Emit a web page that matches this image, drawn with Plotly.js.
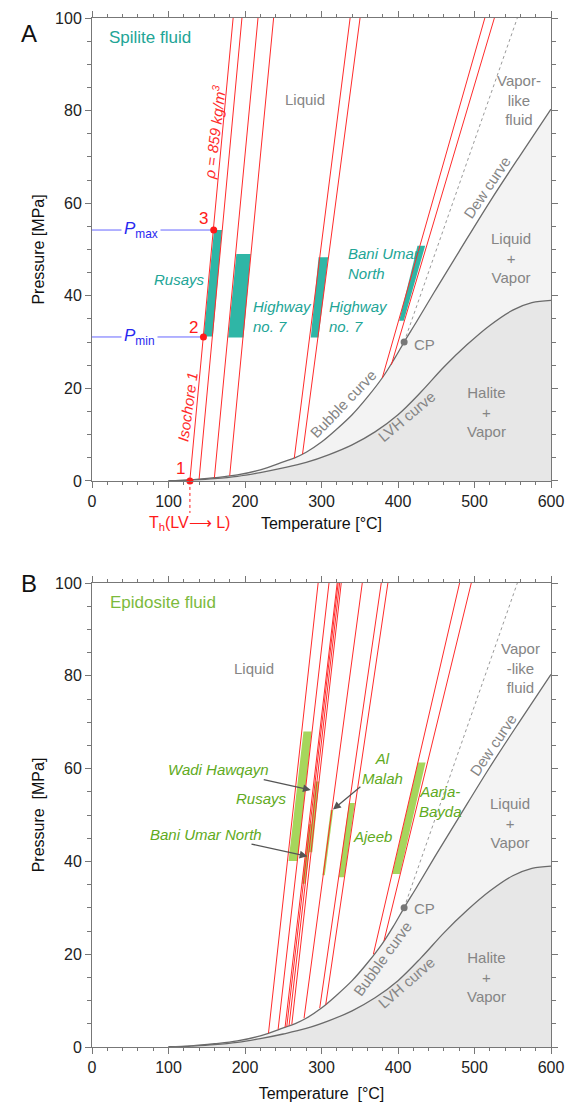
<!DOCTYPE html>
<html>
<head>
<meta charset="utf-8">
<script src="https://cdn.plot.ly/plotly-3.0.1.min.js"></script>
<style>html,body{margin:0;padding:0;background:#fff;}#chart{width:566px;height:1102px;}</style>
</head>
<body>
<div id="chart"></div>
<script>
// ---------- data ----------
// Bubble curve (to CP) continued as dew curve
const curveT = [100, 130, 160, 190, 220, 250, 265, 280, 300, 320, 340, 360, 380, 395, 408, 425, 450, 480, 520, 560, 600];
const curveP = [0.05, 0.25, 0.7, 1.3, 2.4, 4.1, 5.0, 6.2, 8.4, 11.2, 14.3, 18.1, 22.4, 26.3, 30.0, 34.6, 41.5, 49.6, 60.3, 70.4, 80.3];
// LVH curve
const lvhT = [100, 130, 160, 190, 220, 250, 280, 310, 340, 370, 400, 430, 460, 490, 520, 550, 575, 600];
const lvhP = [0.0, 0.2, 0.5, 1.0, 1.8, 2.8, 4.0, 5.7, 7.8, 10.6, 14.3, 19.2, 24.6, 29.4, 33.6, 36.9, 38.5, 39.0];
// Critical point and dotted extension
const cpT = 408, cpP = 30;
const dotT = [408, 556];
const dotP = [30, 100];

// Panel A isochores (start on bubble curve, end at 100 MPa)
const isoA_T0 = [128, 140, 160, 180, 264.4, 275.2, 379.5, 391.3];
const isoA_P0 = [0.25, 0.4, 0.7, 1.1, 4.9, 5.8, 22.3, 25.1];
const isoA_T1 = [184.5, 196, 217, 237.4, 337.4, 350.4, 513.5, 526];
const isoA_P1 = [100, 100, 100, 100, 100, 100, 100, 100];

// Panel A bars (Spilite fluid)
const barsA_name = ['Rusays', 'Highway no. 7', 'Highway no. 7', 'Bani Umar North'];
const barsA_pLow = [31.2, 31.0, 31.0, 34.6];
const barsA_pHigh = [54.2, 49.0, 48.3, 50.8];
const barsA_tLowL = [146, 178, 286, 401.5];
const barsA_tLowR = [158, 198, 296, 407.5];
const barsA_tHighL = [159.5, 188.7, 296.2, 425.5];
const barsA_tHighR = [170, 207.5, 308.7, 435.5];

// Panel A points 1,2,3
const ptsA_T = [128, 145.7, 159.1];
const ptsA_P = [0, 31.1, 54.2];
const ptsA_lbl = ['1', '2', '3'];
const Pmax = 54.2, Pmin = 31.1;

// Panel B isochores
const isoB_T0 = [230.7, 243.3, 252.4, 254.6, 257.6, 261.2, 277.2, 297.7, 305.5, 367.8, 381.7];
const isoB_P0 = [3.0, 3.8, 4.3, 4.4, 4.6, 4.9, 6.2, 8.4, 9.1, 20.0, 22.9];
const isoB_T1 = [295.6, 309.8, 320.5, 321.8, 323.7, 325.8, 353.3, 378.1, 386.8, 480.5, 495.8];
const isoB_P1 = [100, 100, 100, 100, 100, 100, 100, 100, 100, 100, 100];

// Panel B bars (Epidosite fluid)
const barsB_name = ['Rusays', 'Bani Umar North', 'Wadi Hawqayn', 'Al Malah', 'Ajeeb', 'Aarja-Bayda'];
const barsB_pLow = [40.1, 35.2, 42.0, 37.0, 36.6, 37.3];
const barsB_pHigh = [68.0, 48.0, 57.2, 51.1, 52.6, 61.3];
const barsB_tLowL = [256.9, 274.4, 283.0, 301.2, 322.5, 392.5];
const barsB_tLowR = [268.6, 279.0, 288.0, 304.3, 330.0, 402.5];
const barsB_tHighL = [276.4, 283.5, 292.0, 312.0, 336.0, 426.0];
const barsB_tHighR = [287.2, 288.0, 297.0, 315.4, 343.6, 436.0];

// ---------- styles ----------
const FONT = 'Arial, "Liberation Sans", sans-serif';
const RED = '#ff2b2b';
const GRAY = '#858585';
const LINE = '#6a6a6a';
const TEAL = '#2fb6a6';
const TEAL_T = '#22a596';
const GREEN = '#a6d65c';
const GREEN_T = '#5faa22';
const BLUE = '#2828f0';

const traces = [];
function phase(xa, ya) {
  traces.push({x: curveT, y: curveP, xaxis: xa, yaxis: ya, mode: 'lines', fill: 'tozeroy',
    fillcolor: '#f3f3f3', line: {color: LINE, width: 1.3, shape: 'spline', smoothing: 1}, hoverinfo: 'skip'});
  traces.push({x: lvhT, y: lvhP, xaxis: xa, yaxis: ya, mode: 'lines', fill: 'tozeroy',
    fillcolor: '#e7e7e7', line: {color: LINE, width: 1.3, shape: 'spline', smoothing: 1}, hoverinfo: 'skip'});
  traces.push({x: dotT, y: dotP, xaxis: xa, yaxis: ya, mode: 'lines',
    line: {color: '#9a9a9a', width: 1, dash: 'dot'}, hoverinfo: 'skip'});
}
function bars(xa, ya, pl, ph, tll, tlr, thl, thr, color) {
  for (let i = 0; i < pl.length; i++) {
    traces.push({x: [tll[i], tlr[i], thr[i], thl[i], tll[i]], y: [pl[i], pl[i], ph[i], ph[i], pl[i]],
      xaxis: xa, yaxis: ya, mode: 'lines', fill: 'toself', fillcolor: color, line: {width: 0, color: color}, hoverinfo: 'skip'});
  }
}
function isos(xa, ya, t0, p0, t1, p1) {
  for (let i = 0; i < t0.length; i++) {
    traces.push({x: [t0[i], t1[i]], y: [p0[i], p1[i]], xaxis: xa, yaxis: ya, mode: 'lines',
      line: {color: RED, width: 1}, hoverinfo: 'skip'});
  }
}
function cp(xa, ya) {
  traces.push({x: [cpT], y: [cpP], xaxis: xa, yaxis: ya, mode: 'markers',
    marker: {color: '#777', size: 7}, hoverinfo: 'skip'});
}

// Panel A
phase('x', 'y');
bars('x', 'y', barsA_pLow, barsA_pHigh, barsA_tLowL, barsA_tLowR, barsA_tHighL, barsA_tHighR, TEAL);
isos('x', 'y', isoA_T0, isoA_P0, isoA_T1, isoA_P1);
traces.push({x: [0, ptsA_T[2]], y: [Pmax, Pmax], xaxis: 'x', yaxis: 'y', mode: 'lines', line: {color: '#6666ff', width: 1}, hoverinfo: 'skip'});
traces.push({x: [0, ptsA_T[1]], y: [Pmin, Pmin], xaxis: 'x', yaxis: 'y', mode: 'lines', line: {color: '#6666ff', width: 1}, hoverinfo: 'skip'});
cp('x', 'y');
traces.push({x: ptsA_T, y: ptsA_P, xaxis: 'x', yaxis: 'y', mode: 'markers', cliponaxis: false,
  marker: {color: '#ff1a1a', size: 7}, hoverinfo: 'skip'});

// Panel B
phase('x2', 'y2');
bars('x2', 'y2', barsB_pLow, barsB_pHigh, barsB_tLowL, barsB_tLowR, barsB_tHighL, barsB_tHighR, GREEN);
isos('x2', 'y2', isoB_T0, isoB_P0, isoB_T1, isoB_P1);
cp('x2', 'y2');

// ---------- annotations ----------
const ann = [];
function t(xr, yr, x, y, text, opts) {
  const a = Object.assign({xref: xr, yref: yr, x: x, y: y, text: text, showarrow: false,
    font: {family: FONT, size: 15, color: GRAY}}, opts || {});
  ann.push(a);
}
// Panel A
t('paper', 'paper', -0.159, 1.0, 'A', {font: {family: FONT, size: 24, color: '#111'}});
t('x', 'y', 19.6, 95.7, 'Spilite fluid', {xanchor: 'left', font: {family: FONT, size: 17, color: TEAL_T}});
t('x', 'y', 279, 82.3, 'Liquid');
t('x', 'y', 558, 82.3, 'Vapor-<br>like<br>fluid');
t('x', 'y', 516.5, 63.3, 'Dew curve', {textangle: -56});
t('x', 'y', 548, 48.2, 'Liquid<br>+<br>Vapor');
t('x', 'y', 515.6, 14.8, 'Halite<br>+<br>Vapor');
t('x', 'y', 328.5, 16.8, 'Bubble curve', {textangle: -46});
t('x', 'y', 411, 14.0, 'LVH curve', {textangle: -40});
t('x', 'y', 418, 29.5, 'CP', {xanchor: 'left'});
t('x', 'y', 113.9, 43.6, '<i>Rusays</i>', {font: {family: FONT, size: 15, color: TEAL_T}});
t('x', 'y', 208.3, 35.5, '<i>Highway<br>no. 7</i>', {xanchor: 'left', align: 'left', font: {family: FONT, size: 15, color: TEAL_T}});
t('x', 'y', 307, 35.5, '<i>Highway<br>no. 7</i>', {xanchor: 'left', align: 'left', font: {family: FONT, size: 15, color: TEAL_T}});
t('x', 'y', 331.7, 47, '<i>Bani Umar<br>North</i>', {xanchor: 'left', align: 'left', font: {family: FONT, size: 15, color: TEAL_T}});
t('x', 'y', 159.3, 75.2, '<i>ρ = 859 kg/m<sup>3</sup></i>', {textangle: -83, font: {family: FONT, size: 15, color: RED}});
t('x', 'y', 125.6, 16, '<i>Isochore 1</i>', {textangle: -82, font: {family: FONT, size: 15, color: RED}});
t('x', 'y', 116, 2.7, ptsA_lbl[0], {font: {family: FONT, size: 17, color: '#ff1a1a'}});
t('x', 'y', 133, 33.2, ptsA_lbl[1], {font: {family: FONT, size: 17, color: '#ff1a1a'}});
t('x', 'y', 146, 56.6, ptsA_lbl[2], {font: {family: FONT, size: 17, color: '#ff1a1a'}});
t('x', 'y', 63.9, Pmax, '<i>P</i><sub>max</sub>', {bgcolor: '#fff', borderpad: 2, font: {family: FONT, size: 17, color: BLUE}});
t('x', 'y', 62.6, Pmin, '<i>P</i><sub>min</sub>', {bgcolor: '#fff', borderpad: 2, font: {family: FONT, size: 17, color: BLUE}});
t('x', 'paper', 128, 0.509, 'T<sub>h</sub>(LV⟶ L)', {font: {family: FONT, size: 16, color: '#ff1a1a'}});

// Panel B
t('paper', 'paper', -0.159, 0.4509, 'B', {font: {family: FONT, size: 24, color: '#111'}});
t('x2', 'y2', 20.5, 95.7, 'Epidosite fluid', {xanchor: 'left', font: {family: FONT, size: 17, color: '#7cba3c'}});
t('x2', 'y2', 212, 81.6, 'Liquid');
t('x2', 'y2', 559.8, 81.6, 'Vapor<br>-like<br>fluid');
t('x2', 'y2', 525, 65.1, 'Dew curve', {textangle: -56});
t('x2', 'y2', 547, 48.2, 'Liquid<br>+<br>Vapor');
t('x2', 'y2', 516, 15.1, 'Halite<br>+<br>Vapor');
t('x2', 'y2', 380, 19.0, 'Bubble curve', {textangle: -54});
t('x2', 'y2', 411, 13.9, 'LVH curve', {textangle: -41});
t('x2', 'y2', 418, 29.9, 'CP', {xanchor: 'left'});
const gfont = {family: FONT, size: 15, color: GREEN_T};
t('x2', 'y2', 257.6, 53.6, '<i>Rusays</i>', {xanchor: 'right', font: gfont});
t('x2', 'y2', 366.5, 45.3, '<i>Ajeeb</i>', {font: gfont});
t('x2', 'y2', 455.7, 53, '<i>Aarja-<br>Bayda</i>', {font: gfont});
// labels with arrows
function arr(text, x, y, ax, ay) {
  ann.push({xref: 'x2', yref: 'y2', axref: 'x2', ayref: 'y2', x: x, y: y, ax: ax, ay: ay, text: text,
    font: gfont, showarrow: true, arrowhead: 2, arrowsize: 1.2, arrowwidth: 1.3, arrowcolor: '#555', standoff: 0});
}
arr('<i>Wadi Hawqayn</i>', 286, 55.4, 165.4, 59.8);
arr('<i>Bani Umar North</i>', 281.6, 41.1, 148.9, 45.9);
arr('<i>Al<br>Malah</i>', 315, 51.2, 379.6, 60);

// ---------- layout ----------
const axX = {range: [0, 600], tickvals: [0, 100, 200, 300, 400, 500, 600], ticks: 'outside', ticklen: 6, tickwidth: 1,
  tickcolor: '#777', showline: true, linecolor: '#777', linewidth: 1, mirror: 'ticks', showgrid: false, zeroline: false,
  minor: {dtick: 20, tick0: 0, ticks: 'outside', ticklen: 3, tickcolor: '#777', showgrid: false},
  tickfont: {family: FONT, size: 16, color: '#222'}, fixedrange: true};
const axY = {range: [0, 100], tickvals: [0, 20, 40, 60, 80, 100], ticks: 'outside', ticklen: 6, tickwidth: 1,
  tickcolor: '#777', showline: true, linecolor: '#777', linewidth: 1, mirror: 'ticks', showgrid: false, zeroline: false,
  minor: {dtick: 5, tick0: 0, ticks: 'outside', ticklen: 4, tickcolor: '#777', showgrid: false},
  tickfont: {family: FONT, size: 16, color: '#222'}, fixedrange: true};

const layout = {
  width: 566, height: 1102,
  margin: {l: 92, r: 15, t: 18, b: 55},
  paper_bgcolor: '#fff', plot_bgcolor: '#fff',
  showlegend: false,
  font: {family: FONT},
  xaxis: Object.assign({}, axX, {domain: [0, 1], anchor: 'y',
    title: {text: 'Temperature [°C]', font: {family: FONT, size: 16, color: '#111'}, standoff: 8}}),
  yaxis: Object.assign({}, axY, {domain: [0.5501, 1], anchor: 'x',
    title: {text: 'Pressure [MPa]', font: {family: FONT, size: 16, color: '#111'}, standoff: 6}}),
  xaxis2: Object.assign({}, axX, {domain: [0, 1], anchor: 'y2',
    title: {text: 'Temperature\u00a0 [°C]', font: {family: FONT, size: 16, color: '#111'}, standoff: 12}}),
  yaxis2: Object.assign({}, axY, {domain: [0, 0.4509], anchor: 'x2',
    title: {text: 'Pressure\u00a0 [MPa]', font: {family: FONT, size: 16, color: '#111'}, standoff: 6}}),
  annotations: ann,
  shapes: [
    {type: 'line', xref: 'x', yref: 'paper', x0: ptsA_T[0], x1: ptsA_T[0], y0: 0.5501, y1: 0.519,
      line: {color: '#ff1a1a', width: 1, dash: 'dot'}}
  ]
};

Plotly.newPlot('chart', traces, layout, {staticPlot: true, displayModeBar: false});
</script>
</body>
</html>
